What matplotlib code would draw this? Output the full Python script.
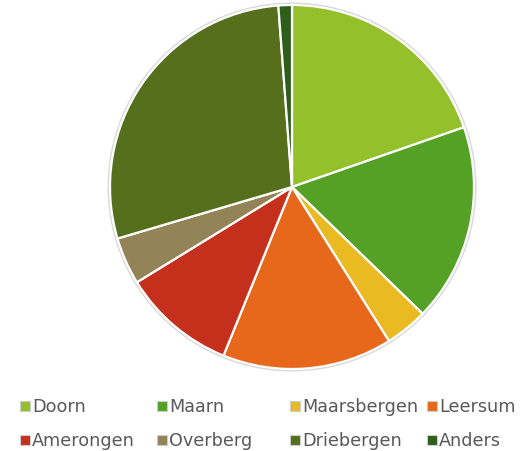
import matplotlib.pyplot as plt
from matplotlib.patches import Circle, Rectangle

# data
labels = ["Doorn", "Maarn", "Maarsbergen", "Leersum",
          "Amerongen", "Overberg", "Driebergen", "Anders"]
values = [19.7, 17.6, 3.8, 15.1, 10.1, 4.2, 28.4, 1.2]
colors = ["#93c02b", "#55a126", "#e9ba22", "#e8681b",
          "#c4301b", "#928457", "#566f1c", "#2e5f1a"]

fig = plt.figure(figsize=(5.32, 4.52), dpi=100)
# pie centre ~ (292, 188) px, radius ~ 182 px
side = 182 * 2.04
ax = fig.add_axes([(292 - side / 2) / 532, (264 - side / 2) / 452, side / 532, side / 452])

# faint outline around the pie
ax.add_patch(Circle((0, 0), 1.008, facecolor="none", edgecolor="#d9d9d9",
                    linewidth=1.5, zorder=0))
ax.pie(values, colors=colors, startangle=90, counterclock=False,
       wedgeprops=dict(edgecolor="white", linewidth=1.6), radius=1.0)
ax.set_xlim(-1.02, 1.02)
ax.set_ylim(-1.02, 1.02)
ax.set_aspect("equal")
ax.axis("off")

# legend laid out in fixed columns, as in the original
col_x = [25, 162, 295, 432]
row_y = [407, 441]
for i, (lab, col) in enumerate(zip(labels, colors)):
    x = col_x[i % 4]
    y = row_y[i // 4]
    fig.patches.append(Rectangle(((x - 5) / 532, (452 - y - 5) / 452), 10 / 532, 10 / 452,
                                 facecolor=col, edgecolor="#cccccc", linewidth=0.8,
                                 transform=fig.transFigure, figure=fig))
    fig.text((x + 7) / 532, (452 - y) / 452, lab, fontsize=12.7, color="#595959",
             va="center", ha="left", family="DejaVu Sans")

fig.savefig("out.png", dpi=100)
